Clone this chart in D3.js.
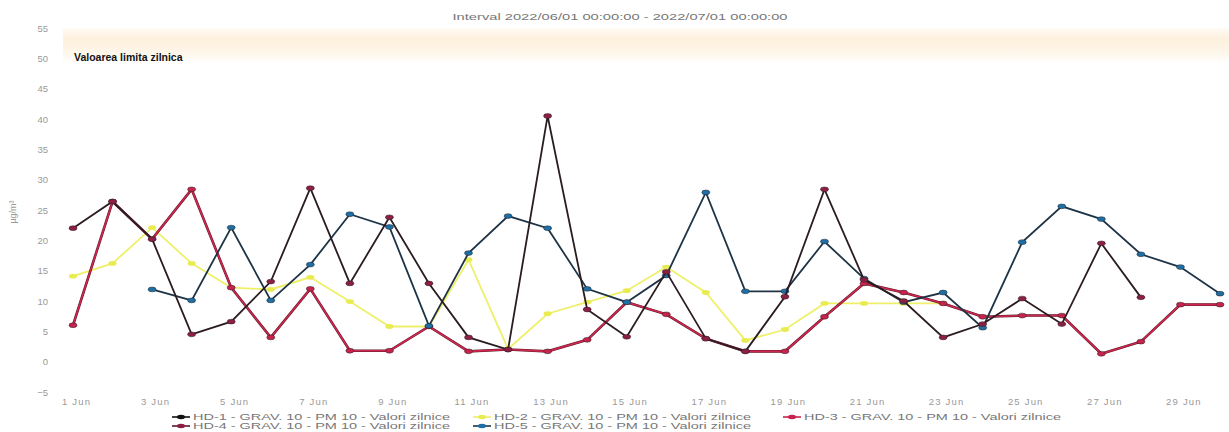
<!DOCTYPE html>
<html><head><meta charset="utf-8">
<script src="https://cdn.jsdelivr.net/npm/d3@7/dist/d3.min.js"></script>
<style>body{margin:0;background:#fff}svg{display:block}text{font-family:"Liberation Sans",Arial,sans-serif}</style>
</head><body>
<script>
const days = d3.range(1, 31);
const xTickDays = [1,3,5,7,9,11,13,15,17,19,21,23,25,27,29];
const yTicks = [-5,0,5,10,15,20,25,30,35,40,45,50,55];
const hd1 = [];
const hd2 = [14.1,16.2,22.1,16.2,12.2,11.9,13.9,9.9,5.8,5.8,16.8,2.1,7.9,9.8,11.7,15.6,11.4,3.5,5.3,9.6,9.6,9.6,9.6];
const hd3 = [6,26.4,20.2,28.4,12.2,4,12,1.8,1.8,5.8,1.7,2,1.7,3.6,9.8,7.8,3.8,1.7,1.7,7.4,12.9,11.4,9.6,7.4,7.6,7.6,1.3,3.3,9.4,9.4];
const hd4 = [22,26.4,20.2,4.5,6.6,13.2,28.6,12.9,23.8,12.9,4,2,40.5,8.6,4.1,14.8,3.8,1.7,10.7,28.4,13.5,10,4,6.2,10.4,6.2,19.5,10.6];
const hd5 = [null,null,11.9,10.1,22.1,10.1,16,24.3,22.2,5.9,17.9,24,22,12,9.8,14.2,27.9,11.6,11.6,19.8,13.7,9.8,11.4,5.6,19.7,25.6,23.5,17.7,15.6,11.2];
const seriesNames = ["HD-1 - GRAV. 10 - PM 10 - Valori zilnice","HD-2 - GRAV. 10 - PM 10 - Valori zilnice","HD-3 - GRAV. 10 - PM 10 - Valori zilnice","HD-4 - GRAV. 10 - PM 10 - Valori zilnice","HD-5 - GRAV. 10 - PM 10 - Valori zilnice"];
const title = "Interval 2022/06/01 00:00:00 - 2022/07/01 00:00:00";
const limitLabel = "Valoarea limita zilnica";
const limitValue = 50;

const W = 1229, H = 432;
const svg = d3.select("body").append("svg").attr("width", W).attr("height", H);
const x = d3.scaleLinear().domain([1, 30]).range([73, 1220]);
const y = d3.scaleLinear().domain([-5, 55]).range([392, 28]);

const defs = svg.append("defs");
const g = defs.append("linearGradient").attr("id","band").attr("x1",0).attr("y1",0).attr("x2",0).attr("y2",1);
g.append("stop").attr("offset","0%").attr("stop-color","#fffbf5");
g.append("stop").attr("offset","30%").attr("stop-color","#fdf0dd");
g.append("stop").attr("offset","70%").attr("stop-color","#fef6ea");
g.append("stop").attr("offset","100%").attr("stop-color","#ffffff");

svg.append("rect").attr("x", 63).attr("y", y(55)).attr("width", W - 63).attr("height", y(limitValue - 0.8) - y(55)).attr("fill","url(#band)");
svg.append("text").attr("x", 74).attr("y", y(limitValue) + 3).attr("font-size", 10.5).attr("font-weight","bold").attr("fill","#111").text(limitLabel);

svg.append("text").attr("x", 620).attr("y", 20).attr("text-anchor","middle").attr("font-size", 9.5).attr("fill","#777")
  .attr("textLength", 335).attr("lengthAdjust","spacingAndGlyphs").text(title);

// y axis
const ya = svg.append("g").attr("transform","translate(48,0)").call(d3.axisLeft(y).tickValues(yTicks).tickSize(0).tickPadding(0));
ya.select(".domain").remove();
ya.selectAll("text").attr("font-size", 9.5).attr("fill","#999").attr("font-family","Liberation Sans, Arial, sans-serif");
svg.append("text").attr("transform","translate(16,212) rotate(-90)").attr("text-anchor","middle").attr("font-size",9).attr("fill","#999").text("µg/m³");

// x axis
const xa = svg.append("g").attr("transform","translate(3,398)").call(d3.axisBottom(x).tickValues(xTickDays).tickSize(0).tickPadding(0).tickFormat(d => d + " Jun"));
xa.select(".domain").remove();
xa.selectAll("text").attr("font-size", 9.5).attr("fill","#999").attr("font-family","Liberation Sans, Arial, sans-serif").attr("letter-spacing", 1.2);

const series = [
  {vals: hd1, line:"#111", mark:"#111"},
  {vals: hd2, line:"#eef06a", mark:"#e8ec50"},
  {vals: hd3, line:"#d02650", mark:"#c8234c", dark:"#5a1a26"},
  {vals: hd4, line:"#2a1c22", mark:"#8e1f44"},
  {vals: hd5, line:"#1e3446", mark:"#1f6fa6"}
];
const drawOrder = [1,2,4,3,0];
const line = d3.line().defined(d => d.v != null).x(d => x(d.d)).y(d => y(d.v));
drawOrder.forEach(i => {
  const s = series[i];
  const pts = s.vals.map((v, k) => ({d: days[k], v}));
  if (s.dark) svg.append("path").attr("d", line(pts)).attr("fill","none").attr("stroke", s.dark).attr("stroke-width", 2.6);
  svg.append("path").attr("d", line(pts)).attr("fill","none").attr("stroke", s.line).attr("stroke-width", s.dark ? 1.6 : 1.8);
  svg.append("g").selectAll("ellipse").data(pts.filter(p => p.v != null)).join("ellipse")
    .attr("cx", p => x(p.d)).attr("cy", p => y(p.v)).attr("rx", 4).attr("ry", 2.4)
    .attr("fill", s.mark).attr("stroke", i===1 ? "none" : "#222").attr("stroke-width", 0.5);
});

// legend
const legPos = [[172,420],[473,420],[783,420],[172,429],[473,429]];
const legLine = ["#111","#eef06a","#c8234c","#5a1a26","#1e3446"];
seriesNames.forEach((n, i) => {
  const [lx, ly] = legPos[i];
  const lg = svg.append("g");
  lg.append("line").attr("x1", lx).attr("x2", lx + 18).attr("y1", ly - 3).attr("y2", ly - 3).attr("stroke", legLine[i]).attr("stroke-width", 1.6);
  lg.append("ellipse").attr("cx", lx + 9).attr("cy", ly - 3).attr("rx", 4).attr("ry", 2.2).attr("fill", series[i].mark);
  lg.append("text").attr("x", lx + 21).attr("y", ly).attr("font-size", 8.2).attr("fill","#777")
    .attr("textLength", 257).attr("lengthAdjust","spacingAndGlyphs").text(n);
});
</script>
</body></html>
